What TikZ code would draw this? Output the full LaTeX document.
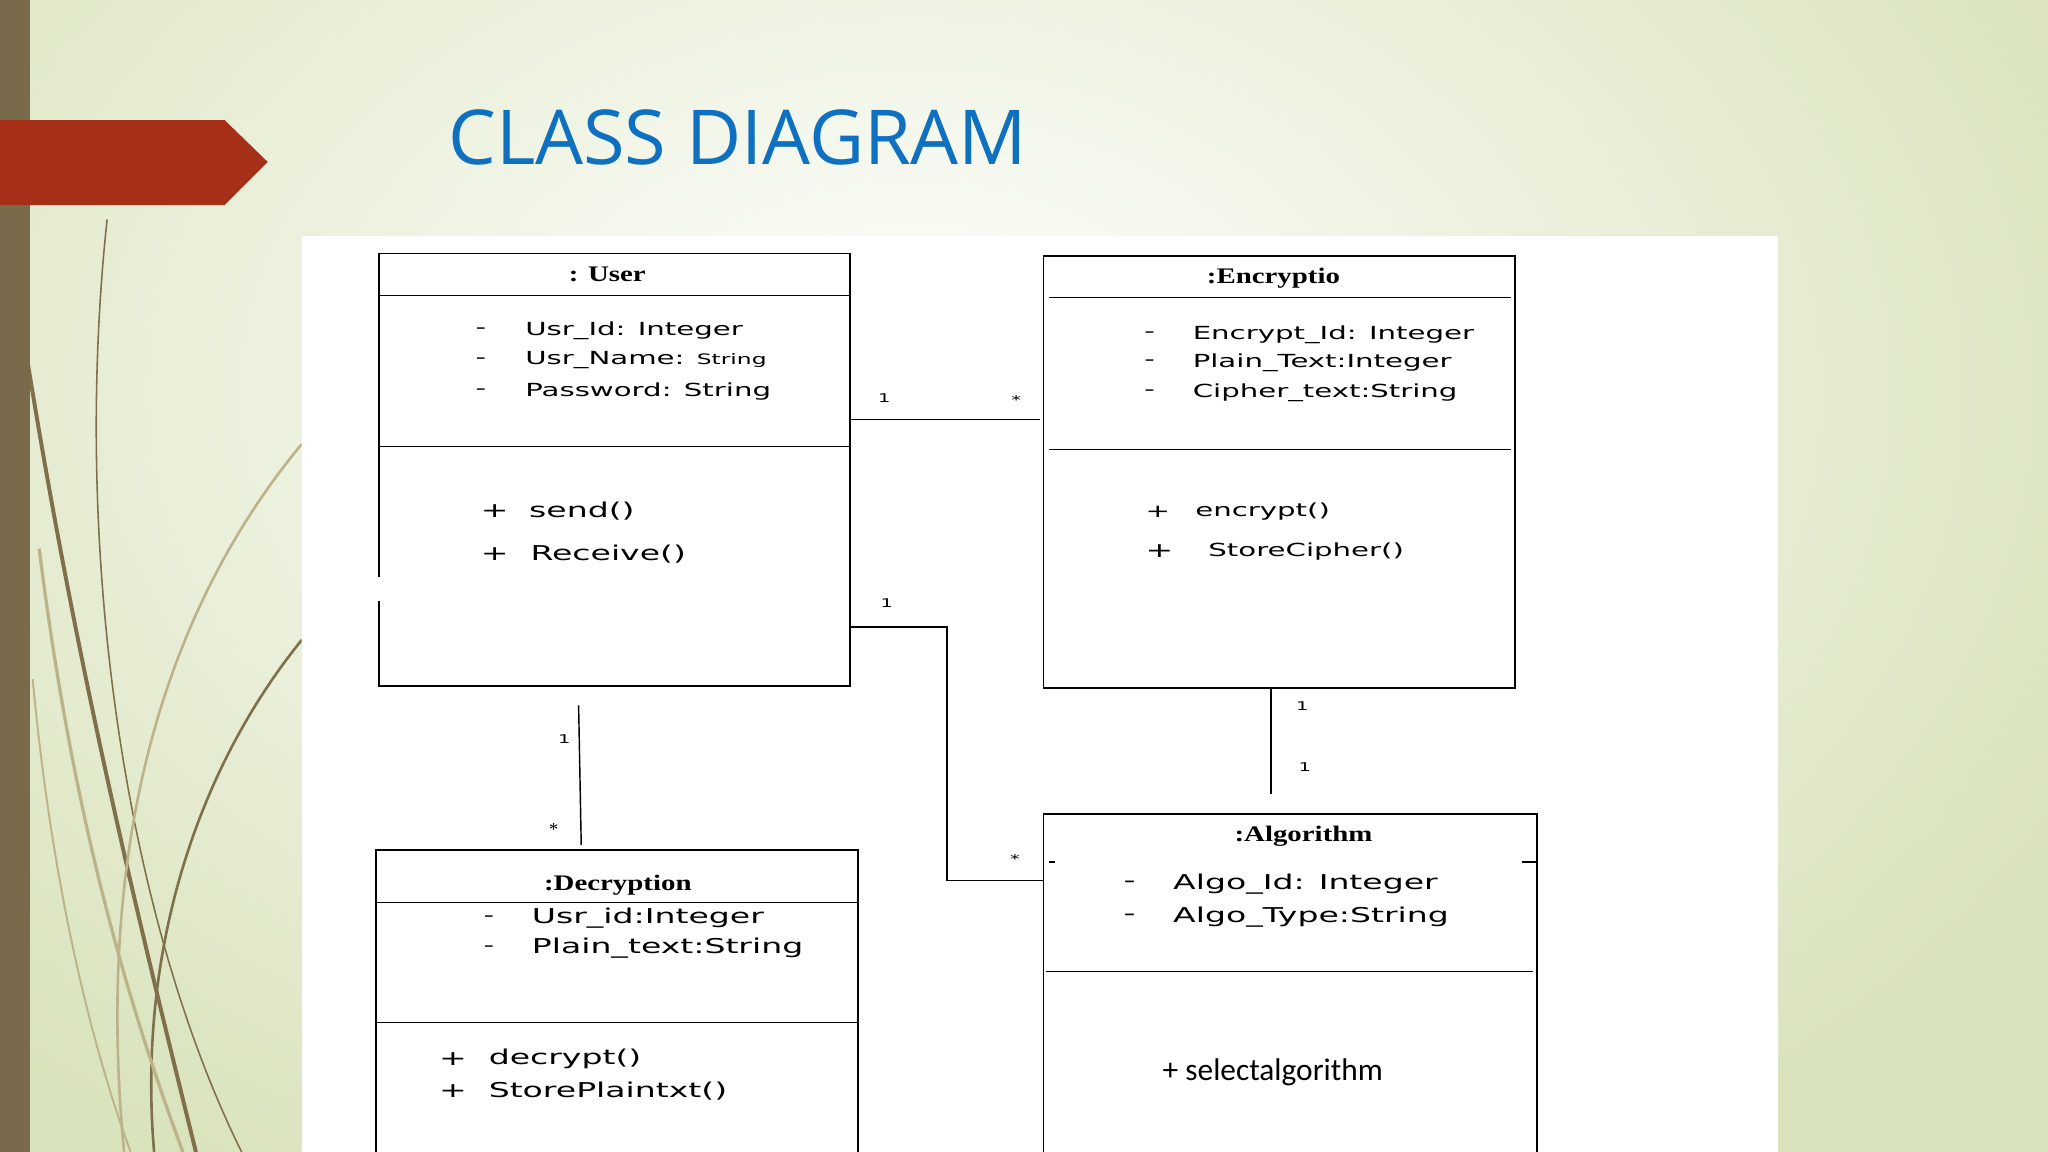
\documentclass[tikz,border=0pt]{standalone}
\usepackage{fontspec}
\setmainfont{Liberation Serif}
\newfontfamily\attrfont{DejaVu Sans}[Scale=0.92,FakeStretch=1.62]
\newfontfamily\namefont{Liberation Serif}[FakeStretch=1.3]
\newfontfamily\titlefont{Open Sans}
\newfontfamily\calfont{Carlito}
\definecolor{bar}{HTML}{7A6A4C}
\definecolor{redarrow}{HTML}{A52F17}
\definecolor{titleblue}{HTML}{1070C0}
\definecolor{bgouter}{HTML}{D9E3BC}
\definecolor{grassA}{HTML}{7F6F4A}
\definecolor{grassB}{HTML}{BDB38A}
\tikzset{
  cls/.style={draw=black, line width=1.3pt},
  sep/.style={black, line width=1pt},
  conn/.style={black, line width=1.1pt},
  attr/.style={anchor=west, inner sep=0pt, font=\attrfont\fontsize{15}{15}\selectfont},
  meth/.style={anchor=west, inner sep=0pt, font=\attrfont\fontsize{17}{17}\selectfont},
  cname/.style={inner sep=0pt, font=\namefont\bfseries\fontsize{17}{17}\selectfont},
  mult/.style={inner sep=0pt, font=\attrfont\fontsize{10}{10}\selectfont},
  grass/.style={line width=1.6pt, grassA},
}
\begin{document}
\begin{tikzpicture}[x=1pt,y=-1pt]
\useasboundingbox (0,0) rectangle (1568,882);
\fill[bgouter] (0,0) rectangle (1568,882);
\begin{scope}
\clip (0,0) rectangle (1568,882);
\shade[inner color=white, outer color=bgouter] (700,300) ellipse (1000 and 700);
\end{scope}
\fill[bar] (0,0) rectangle (23,882);
% grass
\begin{scope}
\clip (23,0) rectangle (231,882);
\draw[grass, line width=1.2pt] (82,168) .. controls (55,420) and (95,700) .. (185,882);
\draw[grass, line width=3pt] (20,270) .. controls (60,520) and (110,720) .. (150,882);
\draw[grass, line width=2pt] (231,490) .. controls (150,590) and (105,730) .. (118,882);
\draw[grassB, line width=2pt] (231,340) .. controls (140,450) and (70,620) .. (95,882);
\draw[grassB, line width=2.5pt] (30,420) .. controls (55,620) and (95,760) .. (140,882);
\draw[grassB, line width=1.5pt] (25,520) .. controls (40,680) and (70,800) .. (100,882);
\end{scope}
\fill[redarrow] (0,92) -- (172,92) -- (205,124) -- (172,157) -- (0,157) -- cycle;
\node[anchor=west, inner sep=0pt, text=titleblue, font=\titlefont\fontsize{58}{58}\selectfont] (title) at (343,105) {CLASS DIAGRAM};
\fill[white] (231,181) rectangle (1361,882);

% User
\draw[cls] (290,442) -- (290,194) -- (651,194) -- (651,525) -- (290,525) -- (290,460);
\draw[sep] (290,226) -- (651,226);
\draw[sep] (290,342) -- (651,342);
\node[cname] (userN) at (465,210) {: User};
\foreach \y/\t in {253/Usr\_Id: Integer, 276/{Usr\_Name: {\fontsize{12}{12}\selectfont String}}, 300/Password: String}
  {\node[attr] at (364,\y) {-}; \node[attr] at (402,\y) {\t};}
\node[meth] at (368,391) {+}; \node[meth] (send) at (405,391) {send()};
\node[meth] at (368,424) {+}; \node[meth] (recv) at (406,424) {Receive()};

% Encryption
\draw[cls] (799,196) rectangle (1160,527);
\draw[sep] (803,228) -- (1157,228);
\draw[sep] (803,344) -- (1157,344);
\node[cname] (encN) at (975,213) {:Encryptio};
\foreach \y/\t in {256/Encrypt\_Id: Integer, 278/Plain\_Text:Integer, 301/Cipher\_text:String}
  {\node[attr] at (876,\y) {-}; \node[attr] at (913,\y) {\t};}
\node[attr] at (877,392) {+}; \node[attr] (enc) at (915,392) {encrypt()};
\node[meth] at (877,422) {+}; \node[attr] (sc) at (925,422) {StoreCipher()};

% Decryption
\draw[cls] (288,882) -- (288,651) -- (657,651) -- (657,882);
\draw[sep] (288,691) -- (657,691);
\draw[sep] (288,783) -- (657,783);
\node[cname] (decN) at (473,678) {:Decryption};
\foreach \y/\t in {703/Usr\_id:Integer, 726/Plain\_text:String}
  {\node[attr] at (370,\y) {-}; \node[meth] at (407,\y) {\t};}
\node[meth] at (336,811) {+}; \node[meth] (dec) at (374,811) {decrypt()};
\node[meth] at (336,835) {+}; \node[meth] (spt) at (374,835) {StorePlaintxt()};

% Algorithm
\draw[cls] (799,882) -- (799,623) -- (1177,623) -- (1177,882);
\draw[sep] (801,744) -- (1174,744);
\draw[sep] (803,660) -- (808,660);
\draw[sep] (1165,660) -- (1177,660);
\node[cname] (algN) at (998,640) {:Algorithm};
\foreach \y/\t in {677/Algo\_Id: Integer, 702/Algo\_Type:String}
  {\node[meth] at (860,\y) {-}; \node[meth] at (898,\y) {\t};}
\node[anchor=west, inner sep=0pt, font=\calfont\fontsize{24}{24}\selectfont] (sel) at (890,821) {+ selectalgorithm};

% connectors
\coordinate (ue1) at (651,321); \coordinate (ue2) at (796,321);
\draw[conn] (ue1) -- (ue2);
\node[mult] at (677,305) {1}; \node[mult] at (778,306) {*};
\coordinate (ua1) at (651,480); \coordinate (ua2) at (799,674);
\draw[conn] (ua1) -- (725,480) -- (725,674) -- (ua2);
\node[mult] at (679,462) {1}; \node[mult] at (777,658) {*};
\coordinate (ud1) at (443,540); \coordinate (ud2) at (445,647);
\draw[conn] (ud1) -- (ud2);
\node[mult] at (432,566) {1}; \node[mult, font=\fontsize{14}{14}\selectfont] at (424,635) {*};
\coordinate (ea1) at (973,527); \coordinate (ea2) at (973,608);
\draw[conn] (ea1) -- (ea2);
\node[mult] at (997,541) {1}; \node[mult] at (999,587) {1};
\end{tikzpicture}
\end{document}
